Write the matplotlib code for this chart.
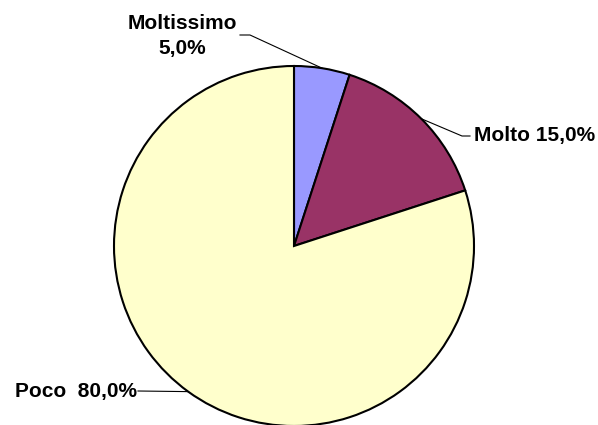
import numpy as np
import matplotlib
matplotlib.use("Agg")
import matplotlib.pyplot as plt

# dati
categorie = ["Moltissimo", "Molto", "Poco"]
valori = [5.0, 15.0, 80.0]
etichette = ["Moltissimo\n5,0%", "Molto 15,0%", "Poco  80,0%"]
colori = ["#9999FF", "#993366", "#FFFFCC"]

W, H = 598, 425
cx, cy, r = 294, 246, 180  # centro e raggio torta in pixel

fig = plt.figure(figsize=(W / 100, H / 100), dpi=100)
ax = fig.add_axes([(cx - r) / W, (H - cy - r) / H, 2 * r / W, 2 * r / H])
ax.pie(valori, colors=colori, startangle=90, counterclock=False,
       wedgeprops=dict(edgecolor="black", linewidth=1.5), radius=1.0)
ax.set_xlim(-1, 1)
ax.set_ylim(-1, 1)
ax.set_aspect("equal")
ax.axis("off")


def px(x, y):
    # pixel -> coordinate dati
    return (x - cx) / r, (cy - y) / r


# punto medio di ogni fetta sul bordo
cum = np.cumsum([0] + valori[:-1])
mid = [(c + v / 2) / sum(valori) * 360 for c, v in zip(cum, valori)]
anchors = [(np.sin(np.radians(a)), np.cos(np.radians(a))) for a in mid]

# posizione testo, allineamento, gomito della linea
layout = [
    dict(pos=(182, 36), ha="center", elbow=[(240, 35), (250, 35)]),
    dict(pos=(474, 136), ha="left", elbow=[(470, 136), (462, 136)]),
    dict(pos=(137, 391), ha="right", elbow=[(138, 391)]),
]

font = dict(family=["Liberation Sans", "DejaVu Sans"], fontweight="bold", fontsize=15)
for lab, lay, anc in zip(etichette, layout, anchors):
    tx, ty = px(*lay["pos"])
    ax.text(tx, ty, lab, ha=lay["ha"], va="center", linespacing=1.45,
            clip_on=False, **font)
    pts = [px(*p) for p in lay["elbow"]] + [anc]
    xs, ys = zip(*pts)
    ax.plot(xs, ys, color="black", linewidth=0.8, clip_on=False)

fig.savefig("out.png", dpi=100)
